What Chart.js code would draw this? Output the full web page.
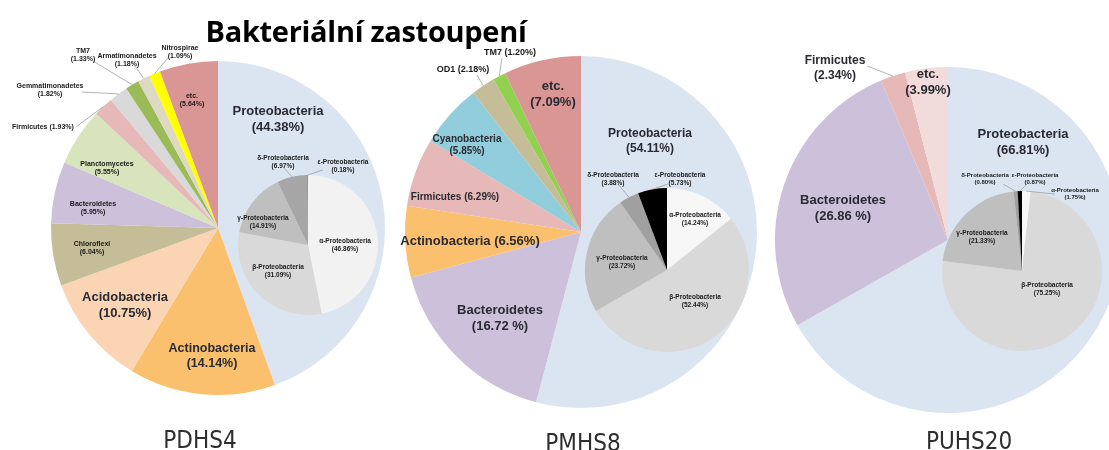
<!DOCTYPE html>
<html><head><meta charset="utf-8">
<script src="https://cdn.jsdelivr.net/npm/chart.js@4.4.1/dist/chart.umd.min.js"></script>
<style>
html,body{margin:0;padding:0;background:#fff;width:1109px;height:450px;overflow:hidden}
#wrap{position:relative;width:1109px;height:450px}
canvas{position:absolute;left:0;top:0}
.t{position:absolute;white-space:nowrap;transform:translate(-50%,-50%)}
#title{left:366px;top:30px;font:bold 29px "Open Sans",sans-serif;color:#000;letter-spacing:-0.3px}
.sample{font:24px "Liberation Sans Narrow","DejaVu Sans Condensed",sans-serif;color:#2e2e2e}
</style></head>
<body><div id="wrap">
<canvas id="o1" width="1109" height="450"></canvas>
<canvas id="o2" width="1109" height="450"></canvas>
<canvas id="o3" width="1109" height="450"></canvas>
<canvas id="i1" width="1109" height="450"></canvas>
<canvas id="i2" width="1109" height="450"></canvas>
<canvas id="i3" width="1109" height="450"></canvas>
<div id="title" class="t">Bakteriální zastoupení</div>
<div id="s1" class="t sample" style="left:200px;top:440px"></div>
<div id="s2" class="t sample" style="left:583px;top:443px"></div>
<div id="s3" class="t sample" style="left:969px;top:441px"></div>
</div>
<script>
// ---------- data ----------
const pdhs4Phyla = ['Proteobacteria','Actinobacteria','Acidobacteria','Chloroflexi','Bacteroidetes','Planctomycetes','Firmicutes','Gemmatimonadetes','TM7','Armatimonadetes','Nitrospirae','etc.'];
const pdhs4Values = [44.38,14.14,10.75,6.04,5.95,5.55,1.93,1.82,1.33,1.18,1.09,5.64];
const pmhs8Phyla = ['Proteobacteria','Bacteroidetes','Actinobacteria','Firmicutes','Cyanobacteria','OD1','TM7','etc.'];
const pmhs8Values = [54.11,16.72,6.56,6.29,5.85,2.18,1.20,7.09];
const puhs20Phyla = ['Proteobacteria','Bacteroidetes','Firmicutes','etc.'];
const puhs20Values = [66.81,26.86,2.34,3.99];
const proteoClasses = ['α-Proteobacteria','β-Proteobacteria','γ-Proteobacteria','δ-Proteobacteria','ε-Proteobacteria'];
const pdhs4ProteoValues = [46.86,31.09,14.91,6.97,0.18];
const pmhs8ProteoValues = [14.24,52.44,23.72,3.88,5.73];
const puhs20ProteoValues = [1.75,75.25,21.33,0.80,0.87];
const sampleNames = ['PDHS4','PMHS8','PUHS20'];

// ---------- styles ----------
const colorOf = {
  'Proteobacteria':'#dbe5f1','Actinobacteria':'#fbc06e','Acidobacteria':'#fbd4b4','Chloroflexi':'#c4bd97',
  'Bacteroidetes':'#ccc0da','Planctomycetes':'#d7e4bc','Firmicutes':'#e6b8b7','Gemmatimonadetes':'#d9d9d9',
  'TM7':'#9bbb59','Armatimonadetes':'#ddd9c3','Nitrospirae':'#ffff00','etc.':'#da9694',
  'Cyanobacteria':'#92cddc','OD1':'#c4bd97'
};
const c1 = pdhs4Phyla.map(n=>colorOf[n]);
const c2 = pmhs8Phyla.map(n=>n==='TM7'?'#92d050':colorOf[n]);
const c3 = puhs20Phyla.map(n=>n==='etc.'?'#f2dcdb':colorOf[n]);
const ci1 = ['#f2f2f2','#d9d9d9','#bfbfbf','#a6a6a6','#7f7f7f'];
const ci2 = ['#f7f7f7','#d9d9d9','#bfbfbf','#a0a0a0','#000000'];
const ci3 = ['#f7f7f7','#d9d9d9','#bfbfbf','#a0a0a0','#000000'];

// label layout: offset from pie centre, font size, single line, leader anchor
const lay1 = [
  {d:[60,-109],s:13},{d:[-6,128],s:12.5},{d:[-93,77],s:13},{d:[-126,20],s:7},
  {d:[-125,-20],s:7},{d:[-111,-60],s:7},{d:[-175,-101],s:7,one:true,lead:[33,0]},
  {d:[-168,-138],s:7,lead:[32,2]},{d:[-135,-173],s:7,lead:[10,6]},{d:[-91,-168],s:7,lead:[8,6]},
  {d:[-38,-176],s:7,lead:[-12,6]},{d:[-26,-128],s:7}
];
const layI1 = [
  {d:[37,0],s:6.5},{d:[-30,26],s:6.5},{d:[-45,-23],s:6.5},{d:[-25,-83],s:6.5,lead:[0,5]},{d:[35,-79],s:6.5,lead:[-20,4]}
];
const lay2 = [
  {d:[69,-91],s:12},{d:[-81,86],s:13,sp:true},{d:[-111,9],s:13,one:true},{d:[-126,-35],s:10,one:true},
  {d:[-114,-87],s:10},{d:[-118,-162],s:9,one:true,lead:[14,5]},{d:[-71,-179],s:9,one:true,lead:[-8,5]},
  {d:[-28,-138],s:13}
];
const layI2 = [
  {d:[28,-51],s:6.5},{d:[28,31],s:6.5},{d:[-45,-8],s:6.5},{d:[-54,-91],s:6.5,lead:[5,5]},{d:[13,-91],s:6.5,lead:[-12,5]}
];
const lay3 = [
  {d:[75,-98],s:13},{d:[-105,-32],s:13,sp:true},{d:[-113,-172],s:12,lead:[32,-2]},{d:[-20,-158],s:13}
];
const layI3 = [
  {d:[53,-77],s:6,lead:[-20,0]},{d:[25,18],s:6.5},{d:[-40,-34],s:6.5},{d:[-37,-92],s:6,lead:[18,5]},{d:[13,-92],s:6,lead:[-8,5]}
];

const labelPlugin = {
  id:'sliceLabels',
  afterDatasetsDraw(chart, args, opts){
    const meta = chart.getDatasetMeta(0);
    const ds = chart.data.datasets[0];
    const names = chart.data.labels;
    const ctx = chart.ctx;
    const a0 = meta.data[0];
    const cx = a0.x, cy = a0.y, R = a0.outerRadius;
    ctx.save();
    opts.layout.forEach((L,i)=>{
      const val = ds.data[i].toFixed(2) + (L.sp ? ' %' : '%');
      const lines = L.one ? [names[i]+' ('+val+')'] : [names[i], '('+val+')'];
      const x = cx + L.d[0], y = cy + L.d[1];
      if (L.lead){
        const arc = meta.data[i];
        const m = (arc.startAngle + arc.endAngle)/2;
        ctx.strokeStyle = '#a0a0a0'; ctx.lineWidth = 0.8;
        ctx.beginPath();
        ctx.moveTo(x + L.lead[0], y + L.lead[1]);
        ctx.lineTo(cx + Math.cos(m)*R, cy + Math.sin(m)*R);
        ctx.stroke();
      }
      ctx.font = 'bold ' + L.s + 'px "Liberation Sans", Arial, sans-serif';
      ctx.fillStyle = L.s > 9 ? '#2a2a33' : '#1a1a1a';
      ctx.textAlign = 'center'; ctx.textBaseline = 'middle';
      const lh = L.s * 1.22;
      lines.forEach((t,k)=> ctx.fillText(t, x, y + (k - (lines.length-1)/2)*lh));
    });
    ctx.restore();
  }
};

const W = 1109, H = 450;
function makePie(id, labels, values, colors, center, radius, layout){
  const s = Math.min(center[0], W-center[0], center[1], H-center[1]) - 2;
  return new Chart(document.getElementById(id), {
    type:'pie',
    data:{labels:labels, datasets:[{data:values, backgroundColor:colors, borderWidth:0, hoverOffset:0, clip:false, radius:radius}]},
    options:{
      responsive:false, animation:false, events:[], devicePixelRatio:1,
      layout:{padding:{left:center[0]-s, right:W-center[0]-s, top:center[1]-s, bottom:H-center[1]-s}},
      plugins:{legend:{display:false}, tooltip:{enabled:false}, title:{display:false}, sliceLabels:{layout:layout}}
    },
    plugins:[labelPlugin]
  });
}

makePie('o1', pdhs4Phyla, pdhs4Values, c1, [218,228], 167, lay1);
makePie('o2', pmhs8Phyla, pmhs8Values, c2, [581,232], 176, lay2);
makePie('o3', puhs20Phyla, puhs20Values, c3, [948,240], 173, lay3);
makePie('i1', proteoClasses, pdhs4ProteoValues, ci1, [308,245], 70, layI1);
makePie('i2', proteoClasses, pmhs8ProteoValues, ci2, [667,270], 82, layI2);
makePie('i3', proteoClasses, puhs20ProteoValues, ci3, [1022,271], 80, layI3);

['s1','s2','s3'].forEach((id,k)=>{ document.getElementById(id).textContent = sampleNames[k]; });
</script>
</body></html>
